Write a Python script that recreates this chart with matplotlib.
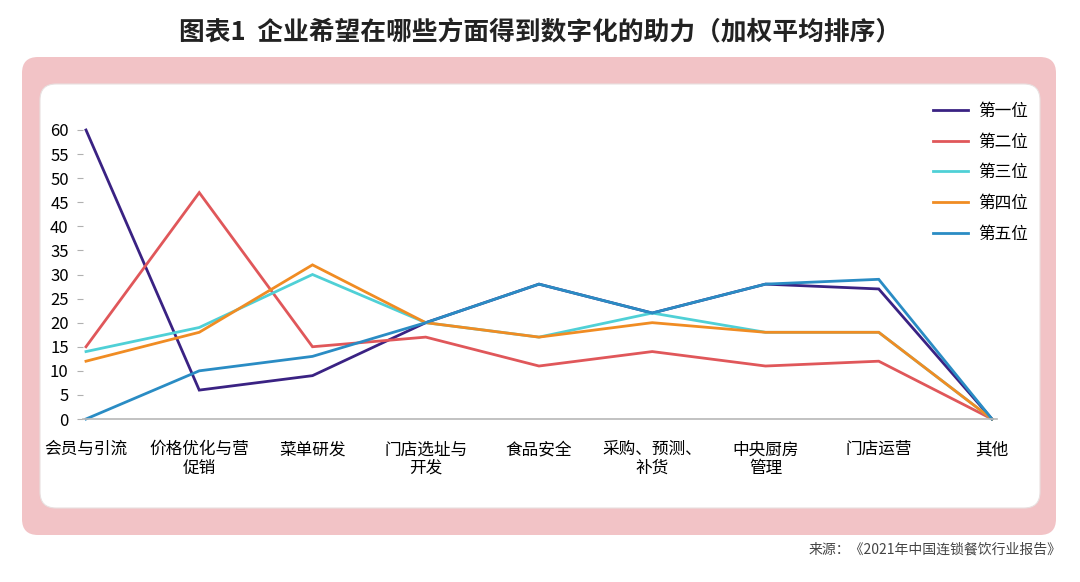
import matplotlib.pyplot as plt
from matplotlib.patches import FancyBboxPatch
from matplotlib.transforms import IdentityTransform

plt.rcParams['font.family'] = ['Noto Sans CJK SC', 'DejaVu Sans']

# Data
categories = ['会员与引流', '价格优化与营\n促销', '菜单研发', '门店选址与\n开发', '食品安全',
              '采购、预测、\n补货', '中央厨房\n管理', '门店运营', '其他']
first = [60, 6, 9, 20, 28, 22, 28, 27, 0]
second = [15, 47, 15, 17, 11, 14, 11, 12, 0]
third = [14, 19, 30, 20, 17, 22, 18, 18, 0]
fourth = [12, 18, 32, 20, 17, 20, 18, 18, 0]
fifth = [0, 10, 13, 20, 28, 22, 28, 29, 0]
series_names = ['第一位', '第二位', '第三位', '第四位', '第五位']
colors = ['#3a2283', '#e0575a', '#4fd0d6', '#f08c23', '#2a8cc4']

fig = plt.figure(figsize=(10.8, 5.82), dpi=100)

# pink frame and white inner panel (pixel coords, origin bottom-left)
H = 582
pink = FancyBboxPatch((22, H - 535), 1034, 478, boxstyle='round,pad=0,rounding_size=16',
                      transform=IdentityTransform(), facecolor='#f2c3c6', edgecolor='none', zorder=-2)
white = FancyBboxPatch((40, H - 508), 1000, 424, boxstyle='round,pad=0,rounding_size=16',
                       transform=IdentityTransform(), facecolor='white', edgecolor='#e8e0e0',
                       linewidth=0.8, zorder=-1)
fig.patches.extend([pink, white])

ax = fig.add_axes([82.6 / 1080, 163 / 582, 913.9 / 1080, 289 / 582])
ax.set_zorder(2)
ax.patch.set_alpha(0)
x = list(range(len(categories)))
for vals, name, c in zip([first, second, third, fourth, fifth], series_names, colors):
    ax.plot(x, vals, color=c, lw=2.0, label=name, clip_on=False, solid_joinstyle='miter')

ax.set_xlim(-0.03, 8.04)
ax.set_ylim(0, 60)
ax.set_yticks(range(0, 61, 5))
ax.set_xticks(x)
ax.set_xticklabels(categories, fontsize=12, linespacing=1.1, va='top')
ax.tick_params(axis='x', length=0, pad=16)
ax.tick_params(axis='y', length=4, color='#b0b0b0', labelsize=12, pad=6)
for s in ['top', 'right', 'left']:
    ax.spines[s].set_visible(False)
ax.spines['bottom'].set_color('#b8b8b8')
ax.spines['bottom'].set_linewidth(1.2)

leg = ax.legend(loc='upper left', bbox_to_anchor=(918 / 1080, 1 - 88 / 582),
                bbox_transform=fig.transFigure, frameon=False, fontsize=12,
                handlelength=2.1, handletextpad=0.6, labelspacing=0.82)

fig.text(0.5, 1 - 33 / 582, '图表1  企业希望在哪些方面得到数字化的助力（加权平均排序）',
         ha='center', va='center', fontsize=18.5, fontweight='bold', color='#222222')
fig.text(1062 / 1080, 1 - 550 / 582, '来源：《2021年中国连锁餐饮行业报告》',
         ha='right', va='center', fontsize=10, color='#444444')

fig.savefig('out.png', dpi=100)
